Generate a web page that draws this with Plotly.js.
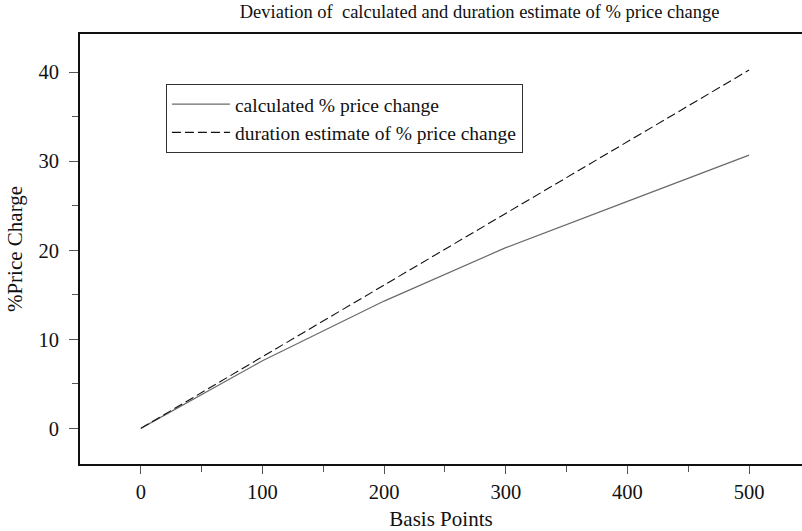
<!DOCTYPE html>
<html>
<head>
<meta charset="utf-8">
<script src="https://cdn.plot.ly/plotly-3.0.1.min.js"></script>
<style>html,body{margin:0;padding:0;background:#fff;}#chart{width:802px;height:531px;}</style>
</head>
<body>
<div id="chart"></div>
<script>
const basisPoints = [0, 100, 200, 300, 400, 500];
const calculatedChange = [0, 7.6, 14.3, 20.3, 25.5, 30.7];
const durationEstimate = [0, 8.05, 16.1, 24.15, 32.2, 40.25];
const seriesNames = ['calculated % price change', 'duration estimate of % price change'];
const xTicks = [0, 100, 200, 300, 400, 500];
const yTicks = [0, 10, 20, 30, 40];

const font = 'Liberation Serif, Times New Roman, serif';

const traces = [
  {x: basisPoints, y: calculatedChange, name: seriesNames[0], mode: 'lines',
   line: {color: '#6a6a6a', width: 1.2}},
  {x: basisPoints, y: durationEstimate, name: seriesNames[1], mode: 'lines',
   line: {color: '#111111', width: 1.1, dash: '9px,4px'}}
];

const layout = {
  width: 802, height: 531,
  margin: {l: 80, r: 0, t: 34, b: 66.5},
  paper_bgcolor: '#fff', plot_bgcolor: '#fff',
  font: {family: font, color: '#111', size: 20},
  showlegend: true,
  title: {text: 'Deviation of  calculated and duration estimate of % price change',
          font: {family: font, size: 18.5, color: '#111'}, x: 0.598, xanchor: 'center', y: 0.978, yanchor: 'middle'},
  legend: {x: 0.119, y: 0.884, xanchor: 'left', yanchor: 'top',
           bordercolor: '#333', borderwidth: 1, bgcolor: '#fff',
           font: {family: font, size: 19.5, color: '#111'},
           itemwidth: 58, tracegroupgap: 0},
  xaxis: {range: [-50, 543.5], tickvals: xTicks, ticktext: xTicks.map(String),
          showgrid: false, zeroline: false, showline: true, linecolor: '#111', linewidth: 2,
          mirror: true, ticks: 'outside', ticklen: 8, tickwidth: 1, tickcolor: '#555',
          tickfont: {family: font, size: 20.5, color: '#111'},
          minor: {tickvals: [50, 150, 250, 350, 450], ticks: 'outside', ticklen: 6, tickwidth: 1, tickcolor: '#555'},
          title: {text: 'Basis Points', font: {family: font, size: 21, color: '#111'}, standoff: 11}},
  yaxis: {range: [-4, 44.3], tickvals: yTicks, ticktext: yTicks.map(String),
          showgrid: false, zeroline: false, showline: true, linecolor: '#111', linewidth: 2,
          ticks: 'outside', ticklen: 9, tickwidth: 1, tickcolor: '#555',
          ticklabelstandoff: 6,
          tickfont: {family: font, size: 20.5, color: '#111'},
          minor: {tickvals: [5, 15, 25, 35], ticks: 'outside', ticklen: 6, tickwidth: 1, tickcolor: '#555'},
          title: {text: '%Price Charge', font: {family: font, size: 21, color: '#111'}, standoff: 10}}
};

Plotly.newPlot('chart', traces, layout, {displayModeBar: false, staticPlot: true});
</script>
</body>
</html>
